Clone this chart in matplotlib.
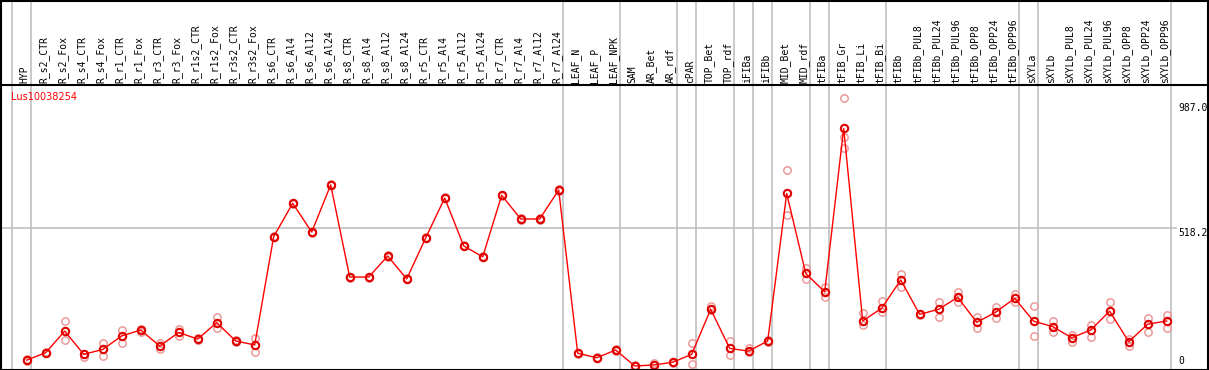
import numpy as np
import matplotlib.pyplot as plt
import matplotlib.transforms as mtransforms
from matplotlib.patches import Rectangle

gene = "Lus10038254"

samples = ["HYP", "R_s2_CTR", "R_s2_Fox", "R_s4_CTR", "R_s4_Fox", "R_r1_CTR", "R_r1_Fox",
           "R_r3_CTR", "R_r3_Fox", "R_r1s2_CTR", "R_r1s2_Fox", "R_r3s2_CTR", "R_r3s2_Fox",
           "R_s6_CTR", "R_s6_Al4", "R_s6_Al12", "R_s6_Al24",
           "R_s8_CTR", "R_s8_Al4", "R_s8_Al12", "R_s8_Al24",
           "R_r5_CTR", "R_r5_Al4", "R_r5_Al12", "R_r5_Al24",
           "R_r7_CTR", "R_r7_Al4", "R_r7_Al12", "R_r7_Al24",
           "LEAF_N", "LEAF_P", "LEAF_NPK", "SAM", "AR_Bet", "AR_rdf", "cPAR",
           "TOP_Bet", "TOP_rdf", "iFIBa", "iFIBb", "MID_Bet", "MID_rdf",
           "tFIBa", "tFIB_Gr", "tFIB_Li", "tFIB_Bi", "tFIBb",
           "tFIBb_PUL8", "tFIBb_PUL24", "tFIBb_PUL96", "tFIBb_OPP8", "tFIBb_OPP24", "tFIBb_OPP96",
           "sXYLa", "sXYLb",
           "sXYLb_PUL8", "sXYLb_PUL24", "sXYLb_PUL96", "sXYLb_OPP8", "sXYLb_OPP24", "sXYLb_OPP96"]

# mean expression per sample (the red line)
means = [22, 50, 131, 44, 62, 113, 135, 75, 126, 101, 163, 94, 79,
         486, 611, 503, 680,
         334, 334, 413, 327,
         481, 631, 451, 410,
         641, 552, 552, 661,
         48, 31, 60, 0, 4, 14, 44,
         213, 66, 56, 94, 648, 348,
         278, 892, 169, 217, 323,
         194, 213, 258, 164, 202, 254,
         168, 148,
         106, 135, 206, 91, 157, 169]

# individual replicates (pink circles)
reps = [[20, 25], [48, 52], [169, 98], [35, 46], [85, 37], [135, 85], [126, 140],
        [88, 62], [139, 113], [99, 104], [185, 144], [92, 96], [106, 51],
        [483, 488], [609, 613], [501, 505], [678, 682],
        [332, 336], [332, 336], [411, 415], [325, 329],
        [479, 483], [629, 633], [449, 453], [408, 412],
        [639, 643], [550, 554], [550, 554], [659, 663],
        [46, 50], [29, 33], [58, 62], [0, 2], [12, 2], [12, 16], [85, 6],
        [226, 210], [94, 40], [66, 52], [96, 92], [736, 566], [369, 327],
        [295, 260], [1005, 859, 817], [198, 154], [244, 202], [344, 298],
        [197, 192], [239, 185], [278, 242], [185, 144], [220, 181], [269, 242],
        [226, 114], [170, 129],
        [116, 89], [154, 110], [239, 175], [76, 100], [179, 129], [191, 142]]

yticks = [0, 518.2, 987.0]
ytick_labels = ["0", "518.2", "987.0"]

# last sample index of each group; a separator is drawn just after it
group_ends = [-1, 0, 28, 31, 34, 35, 37, 38, 39, 41, 42, 45, 52, 53, 60]

W, H = 1209, 370
fig = plt.figure(figsize=(W / 100, H / 100), dpi=100)
# plot area in pixels: x 1..1207, y 85..369 (from top)
ax = fig.add_axes([1 / W, 1 / H, 1206 / W, 284 / H])

x = np.arange(len(samples))
px_per_cat = 19.0
x0_px = 26.7
ax.set_xlim((1 - x0_px) / px_per_cat, (1207 - x0_px) / px_per_cat)
px_per_unit = 0.2663
ax.set_ylim(-3 / px_per_unit, 281 / px_per_unit)

for s in ["left", "right", "bottom"]:
    ax.spines[s].set_visible(False)
ax.spines["top"].set_linewidth(1.5)
ax.set_xticks([])
ax.set_yticks([])

grid = "#c0c0c0"
head = 1 + 85 / 284
trans = mtransforms.blended_transform_factory(ax.transData, ax.transAxes)
for g in group_ends:
    ax.plot([g + 0.2, g + 0.2], [0, head], color=grid, lw=1.2,
            transform=trans, clip_on=False, zorder=1)

# horizontal grid at middle tick
x_right = (1176 - x0_px) / px_per_cat
ax.plot([ax.get_xlim()[0], x_right], [yticks[1], yticks[1]], color=grid, lw=1.2, zorder=1)

# replicates
for i, r in enumerate(reps):
    ax.plot([i] * len(r), r, "o", ms=5.3, mfc="none", mec="#eb9a9a", mew=1.1, zorder=2)

ax.plot(x, means, "-", color="red", lw=1, zorder=3)
ax.plot(x, means, "o", ms=5.3, mfc="none", mec="#e00000", mew=1.5, zorder=4)

# sample labels in the header
for i, name in enumerate(samples):
    ax.text(i - 0.1, 1 + 2 / 284, name, transform=trans, rotation=90,
            ha="center", va="bottom", fontsize=7, family="DejaVu Sans Mono", clip_on=False)

# value labels on the right
xt = (1178 - x0_px) / px_per_cat
for v, lab in zip(yticks, ytick_labels):
    va = "bottom" if v == 0 else "top"
    ax.text(xt, v, lab, ha="left", va=va, fontsize=7, family="DejaVu Sans Mono", clip_on=True)

ax.text(10 / 1206, 1 - 12 / 284, gene, transform=ax.transAxes, color="red",
        fontsize=7, va="center", ha="left")

fig.add_artist(Rectangle((0.5 / W, 0.5 / H), 1 - 1.5 / W, 1 - 1.5 / H, transform=fig.transFigure,
                         fill=False, edgecolor="black", lw=1.5))

fig.savefig("out.png", dpi=100)
